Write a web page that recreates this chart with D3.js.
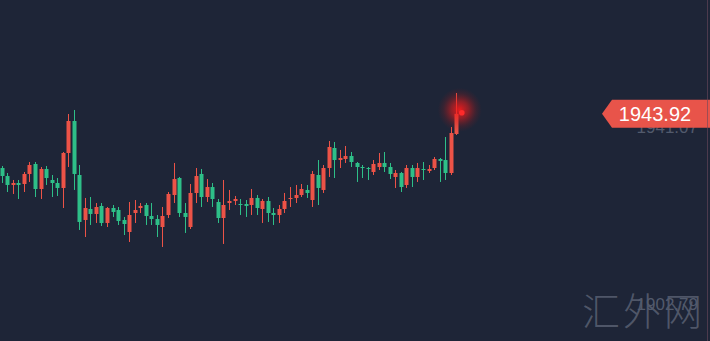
<!DOCTYPE html>
<html>
<head>
<meta charset="utf-8">
<script src="https://cdn.jsdelivr.net/npm/d3@7"></script>
<style>
  html, body { margin: 0; padding: 0; background: #1e2537; overflow: hidden; }
  svg { display: block; }
</style>
</head>
<body>
<div id="chart"></div>
<script>
// candles, oldest first (price values)
let opens = [1932.20, 1930.47, 1928.53, 1928.96, 1928.74, 1930.91, 1933.07, 1927.66, 1931.99, 1929.61,
  1928.96, 1927.88, 1935.45, 1942.37, 1930.69, 1920.96, 1923.34, 1922.26, 1923.99, 1920.31,
  1923.55, 1923.12, 1920.96, 1918.36, 1922.47, 1923.55, 1924.20, 1921.82, 1921.17, 1919.44,
  1922.04, 1926.36, 1930.04, 1922.47, 1919.44, 1926.80, 1930.91, 1925.93, 1928.09, 1924.85,
  1921.39, 1924.63, 1925.07, 1924.42, 1924.42, 1924.20, 1925.72, 1923.34, 1925.07, 1922.47,
  1922.04, 1923.34, 1925.50, 1925.72, 1926.36, 1927.45, 1925.28, 1930.69, 1927.45, 1932.20,
  1936.53, 1933.93, 1934.15, 1934.80, 1933.29, 1932.42, 1932.20, 1931.34, 1932.42, 1933.29,
  1932.42, 1930.26, 1931.12, 1928.53, 1932.20, 1930.26, 1931.99, 1931.55, 1932.20, 1934.15,
  1933.93, 1931.12, 1939.56]
let highs = [1932.64, 1931.12, 1929.61, 1929.61, 1931.34, 1933.50, 1933.50, 1932.42, 1932.64, 1930.69,
  1930.04, 1935.66, 1943.88, 1944.75, 1932.85, 1925.72, 1925.93, 1924.63, 1924.63, 1923.77,
  1924.20, 1923.77, 1921.61, 1924.85, 1925.28, 1924.63, 1924.63, 1924.63, 1922.04, 1923.77,
  1927.01, 1933.29, 1930.26, 1924.63, 1928.74, 1932.20, 1931.99, 1929.82, 1928.96, 1925.50,
  1929.61, 1927.45, 1926.15, 1925.50, 1925.28, 1927.66, 1926.36, 1925.50, 1925.93, 1923.55,
  1924.20, 1926.80, 1928.09, 1928.53, 1928.74, 1928.53, 1931.55, 1933.93, 1932.85, 1938.04,
  1937.83, 1936.10, 1936.96, 1935.66, 1933.50, 1932.85, 1932.42, 1933.93, 1935.45, 1935.66,
  1933.29, 1931.77, 1931.34, 1932.85, 1932.85, 1933.29, 1933.50, 1932.85, 1934.58, 1934.37,
  1938.91, 1941.07, 1948.42]
let lows = [1928.96, 1927.01, 1926.58, 1925.50, 1927.01, 1929.18, 1925.93, 1925.50, 1928.53, 1925.93,
  1926.15, 1923.55, 1932.42, 1927.45, 1918.80, 1917.28, 1919.88, 1920.31, 1919.66, 1919.44,
  1921.61, 1919.88, 1917.71, 1916.20, 1920.31, 1922.47, 1919.88, 1919.88, 1917.28, 1915.12,
  1921.39, 1924.63, 1921.61, 1918.15, 1919.01, 1924.63, 1923.77, 1924.85, 1923.77, 1920.31,
  1915.77, 1923.12, 1924.20, 1922.04, 1921.61, 1922.04, 1922.04, 1920.31, 1920.53, 1919.88,
  1920.31, 1922.47, 1923.77, 1924.63, 1925.93, 1925.72, 1923.77, 1924.20, 1926.80, 1930.26,
  1930.04, 1932.20, 1933.29, 1932.42, 1929.18, 1930.04, 1929.61, 1930.69, 1931.77, 1931.34,
  1929.82, 1927.88, 1927.01, 1927.88, 1928.09, 1929.18, 1929.61, 1931.12, 1931.77, 1929.18,
  1929.61, 1930.69, 1939.34]
let closes = [1930.47, 1928.53, 1928.96, 1928.53, 1930.91, 1932.85, 1927.66, 1931.99, 1930.04, 1928.96,
  1927.88, 1935.45, 1942.37, 1930.91, 1920.53, 1923.55, 1922.26, 1923.77, 1920.31, 1923.55,
  1922.69, 1920.74, 1920.09, 1922.04, 1923.12, 1923.99, 1921.82, 1921.17, 1919.88, 1921.82,
  1926.58, 1929.82, 1922.47, 1921.61, 1926.80, 1930.47, 1925.93, 1928.09, 1925.50, 1921.39,
  1924.20, 1925.07, 1925.50, 1924.20, 1923.99, 1925.72, 1923.55, 1925.07, 1922.47, 1922.04,
  1923.34, 1925.07, 1925.72, 1926.36, 1927.66, 1926.80, 1930.91, 1927.88, 1932.20, 1936.75,
  1933.93, 1934.37, 1934.80, 1933.50, 1932.42, 1932.20, 1931.99, 1933.07, 1933.29, 1932.42,
  1930.91, 1931.12, 1928.09, 1932.20, 1930.26, 1932.20, 1931.77, 1931.99, 1934.15, 1933.72,
  1931.12, 1939.77, 1943.92]

let lastPrice = 1943.92
let axisLabels = [1941.07, 1902.79]
let watermark = "汇外网"

let width = 710
let height = 341

let upColor = "#ec5347"
let downColor = "#2ebf88"

let candles = opens.map((o, i) => ({
    i: i, o: o, h: highs[i], l: lows[i], c: closes[i]
}))

let svg = d3.select("#chart")
    .append("svg")
    .attr("width", width)
    .attr("height", height)
    .style("background", "#1e2537")

let x = d3.scaleLinear()
    .domain([0, candles.length - 1])
    .range([1.7, 456.3])

let y = d3.scaleLinear()
    .domain([1902.79, 1941.07])
    .range([304, 127])

let bodyW = 4

// watermark first, it sits under everything
svg.append("text")
    .attr("x", 582)
    .attr("y", 325)
    .attr("font-family", "'Noto Sans CJK SC', sans-serif")
    .attr("font-weight", 300)
    .attr("font-size", 38)
    .attr("letter-spacing", 3)
    .attr("fill", "#5d6476")
    .attr("fill-opacity", 0.8)
    .text(watermark)

// price labels on the right
svg.append("g")
    .selectAll("text")
    .data(axisLabels)
    .enter()
    .append("text")
    .attr("x", 698)
    .attr("y", d => y(d))
    .attr("dy", "0.36em")
    .attr("text-anchor", "end")
    .attr("font-family", "Helvetica, Arial, 'Liberation Sans', sans-serif")
    .attr("font-size", 17)
    .attr("fill", "#525a6c")
    .text(d => d.toFixed(2))

let g = svg.append("g")

g.selectAll(".wick")
    .data(candles)
    .enter()
    .append("line")
    .attr("class", "wick")
    .attr("x1", d => Math.round(x(d.i)) + 0.5)
    .attr("x2", d => Math.round(x(d.i)) + 0.5)
    .attr("y1", d => y(d.h))
    .attr("y2", d => y(d.l))
    .attr("stroke", d => d.c >= d.o ? upColor : downColor)
    .attr("stroke-width", 1)

g.selectAll(".body")
    .data(candles)
    .enter()
    .append("rect")
    .attr("class", "body")
    .attr("x", d => Math.round(x(d.i)) + 0.5 - bodyW / 2)
    .attr("y", d => y(Math.max(d.o, d.c)))
    .attr("width", bodyW)
    .attr("height", d => Math.max(1, Math.abs(y(d.o) - y(d.c))))
    .attr("fill", d => d.c >= d.o ? upColor : downColor)

// live price glow
let defs = svg.append("defs")
let grad = defs.append("radialGradient").attr("id", "glow")
grad.append("stop").attr("offset", "0%").attr("stop-color", "#ff1a1a").attr("stop-opacity", 0.9)
grad.append("stop").attr("offset", "40%").attr("stop-color", "#e61c1c").attr("stop-opacity", 0.55)
grad.append("stop").attr("offset", "75%").attr("stop-color", "#b81818").attr("stop-opacity", 0.18)
grad.append("stop").attr("offset", "100%").attr("stop-color", "#a01515").attr("stop-opacity", 0)

let px = x(candles.length - 1) + 5.5
let py = y(lastPrice) - 1

svg.append("circle")
    .attr("cx", px - 2)
    .attr("cy", py - 3)
    .attr("r", 22)
    .attr("fill", "url(#glow)")

svg.append("circle")
    .attr("cx", px)
    .attr("cy", py)
    .attr("r", 2.8)
    .attr("fill", "#ff2a2a")

// current price tag
let ty = y(lastPrice)
let tag = svg.append("g")
tag.append("path")
    .attr("d", "M602," + ty + "L612," + (ty - 14) + "L" + width + "," + (ty - 14) +
        "L" + width + "," + (ty + 14) + "L612," + (ty + 14) + "Z")
    .attr("fill", "#e8544a")

tag.append("text")
    .attr("x", 655)
    .attr("y", ty)
    .attr("dy", "0.36em")
    .attr("text-anchor", "middle")
    .attr("font-family", "Helvetica, Arial, 'Liberation Sans', sans-serif")
    .attr("font-size", 20)
    .attr("fill", "#ffffff")
    .text(lastPrice.toFixed(2))

svg.append("line")
    .attr("x1", 707.5)
    .attr("x2", 707.5)
    .attr("y1", 0)
    .attr("y2", height)
    .attr("stroke", "#6a4a5c")
    .attr("stroke-opacity", 0.6)
</script>
</body>
</html>
